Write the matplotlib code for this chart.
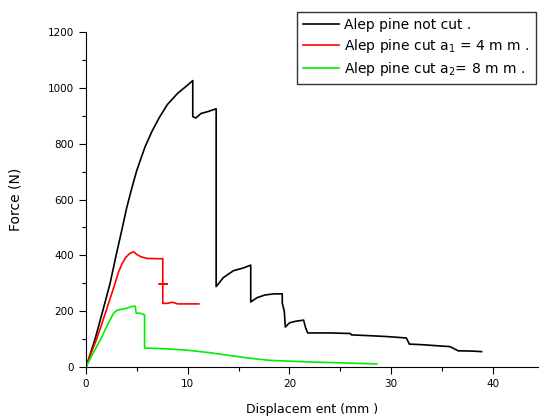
import matplotlib
matplotlib.use("Agg")
import matplotlib.pyplot as plt
from matplotlib.ticker import MultipleLocator

plt.rcParams['font.family'] = ['DejaVu Sans']

# Alep pine not cut
x_black = [0, 0.45, 0.89, 1.64, 2.37, 2.96, 3.52, 4.0, 4.5, 5.0, 5.8, 6.5, 7.2, 8.0, 9.0,
           9.5, 10.0, 10.5,
           10.5, 10.8, 11.3, 12.0, 12.8, 12.8, 13.5, 14.5, 15.5, 16.2, 16.2, 16.8, 17.6,
           18.5, 19.3, 19.3, 19.5, 19.6, 20.0, 20.5, 21.4, 21.6, 21.8, 24.0, 26.0, 26.1,
           28.0, 29.6, 31.5, 31.8, 33.0, 35.8, 36.6, 38.0, 38.9]
y_black = [0, 50, 100, 200, 300, 400, 490, 570, 640, 705, 788, 845, 893, 940, 980,
           995, 1010, 1026,
           897, 892, 908, 915, 925, 288, 320, 345, 355, 365, 233, 248, 258,
           262, 262, 229, 200, 143, 158, 163, 168, 140, 122, 122, 120, 115,
           112, 109, 104, 82, 80, 73, 58, 57, 55]

# Alep pine cut a1 = 4 mm
x_red = [0, 0.5, 1.05, 1.97, 2.86, 3.2, 3.52, 3.9, 4.3, 4.67, 5.0, 5.4, 6.0, 7.0, 7.55,
         7.55, 7.2, 8.0, 7.55, 7.55, 8.0, 8.5, 9.0, 11.1]
y_red = [0, 50, 100, 200, 300, 340, 368, 392, 407, 413, 403, 395, 389, 388, 388,
         297, 297, 297, 297, 228, 228, 232, 226, 226]

# Alep pine cut a2 = 8 mm
x_green = [0, 0.7, 1.45, 2.1, 2.7, 3.0, 3.36, 4.0, 4.5, 4.84, 4.93, 5.4, 5.76, 5.76, 8.0,
           10.0, 12.0, 14.0, 16.0, 18.0, 22.0, 25.0, 28.6]
y_green = [0, 50, 100, 150, 192, 202, 206, 210, 217, 218, 193, 192, 186, 68, 65,
           60, 52, 42, 32, 24, 18, 15, 11]

labels = ["Alep pine not cut .",
          "Alep pine cut a$_{\\mathregular{1}}$ = 4 m m .",
          "Alep pine cut a$_{\\mathregular{2}}$= 8 m m ."]

fig = plt.figure(figsize=(5.39, 4.16), dpi=100)
ax = fig.add_axes([86/539, 49/416, 1 - 86/539, 335/416])

l1, = ax.plot(x_black, y_black, color='black', lw=1.2)
l2, = ax.plot(x_red, y_red, color='#ff0000', lw=1.2)
l3, = ax.plot(x_green, y_green, color='#00ee00', lw=1.2)

ax.set_xlim(0, 44.55)
ax.set_ylim(0, 1200)
ax.spines['top'].set_visible(False)
ax.spines['right'].set_visible(False)
ax.xaxis.set_major_locator(MultipleLocator(10))
ax.xaxis.set_minor_locator(MultipleLocator(5))
ax.yaxis.set_major_locator(MultipleLocator(200))
ax.yaxis.set_minor_locator(MultipleLocator(100))
ax.tick_params(which='both', direction='out', labelsize=7.5, width=0.8)
ax.tick_params(which='major', length=5)
ax.tick_params(which='minor', length=3)

ax.set_xlabel("Displacem ent (mm )", fontsize=9, labelpad=10)
ax.set_ylabel("Force (N)", fontsize=10, labelpad=18)

leg = fig.legend([l1, l2, l3], labels, loc='upper left',
                 bbox_to_anchor=(297/539, 1 - 12/416), fontsize=10,
                 frameon=True, fancybox=False, edgecolor='black',
                 handlelength=2.6, handletextpad=0.35, borderpad=0.45,
                 labelspacing=0.35, borderaxespad=0)
leg.get_frame().set_linewidth(1.0)

fig.savefig("out.png", dpi=100)
